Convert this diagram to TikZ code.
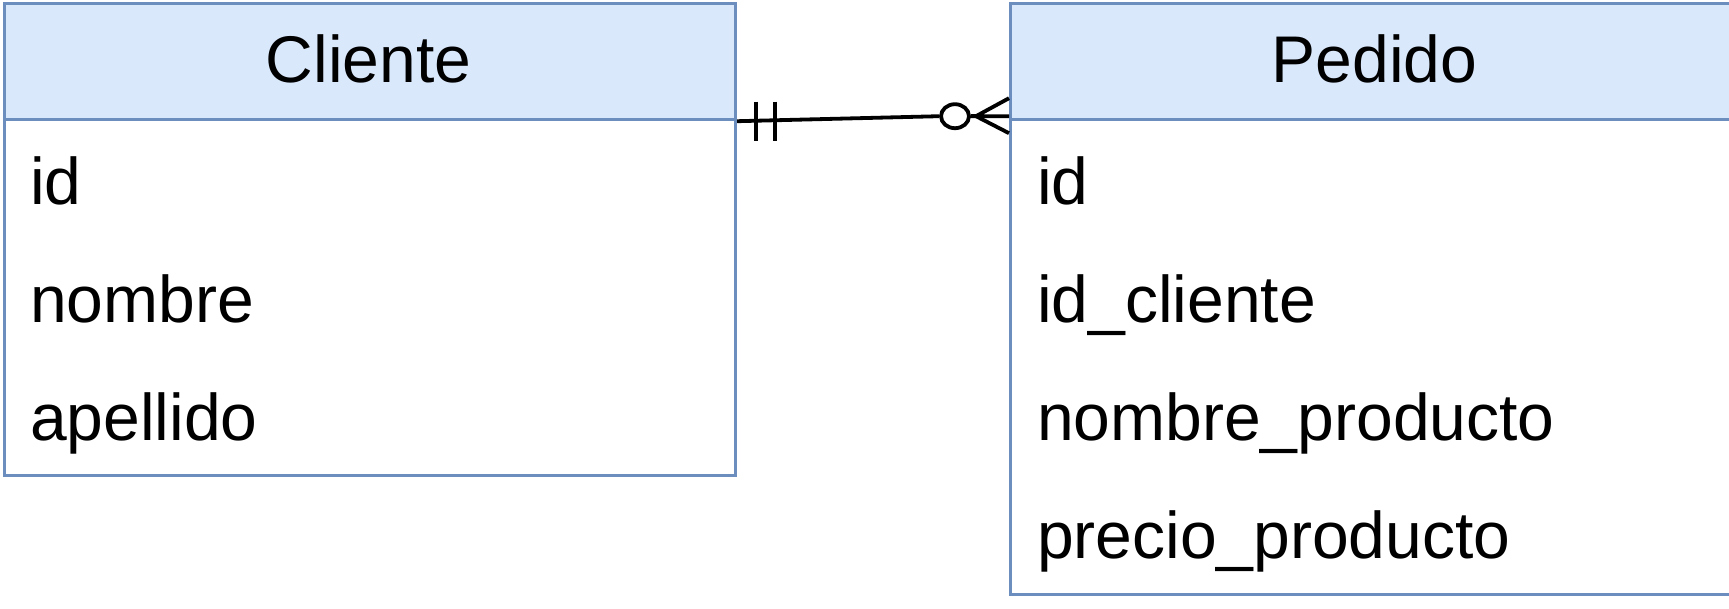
\documentclass[tikz,border=0pt]{standalone}
\usepackage{fontspec}
\setmainfont{Liberation Sans}
\usetikzlibrary{shapes.geometric}
\definecolor{entline}{HTML}{6C8EBF}
\definecolor{entfill}{HTML}{DAE8FC}
\begin{document}
\begin{tikzpicture}[x=1pt,y=-1pt,
  entbox/.style={draw=entline, line width=3.2pt, fill=white, rectangle, inner sep=0pt, anchor=north west},
  enthead/.style={draw=entline, line width=3.2pt, fill=entfill, rectangle, inner sep=0pt, anchor=north west},
  headtxt/.style={anchor=base, font=\fontsize{66}{79}\selectfont, inner sep=0pt},
  rowtxt/.style={anchor=base west, font=\fontsize{66}{79}\selectfont, inner sep=0pt},
  rel/.style={line width=3.8pt, black, line cap=butt}]
\useasboundingbox (0,0) rectangle (1729,608);
\clip (0,0) rectangle (1729,608);
\fill[white] (0,0) rectangle (1729,608);

% Cliente
\node[entbox, minimum width=731pt, minimum height=472pt] (cliB) at (3,2) {};
\node[enthead, minimum width=731pt, minimum height=116pt] (cliH) at (3,2) {};
\node[headtxt] (cliT) at (368.5,82) {Cliente};
\node[rowtxt] (cli1) at (30,204) {id};
\node[rowtxt] (cli2) at (30,322) {nombre};
\node[rowtxt] (cli3) at (30,440) {apellido};

% Pedido
\node[entbox, minimum width=731pt, minimum height=591pt] (pedB) at (1009,2) {};
\node[enthead, minimum width=731pt, minimum height=116pt] (pedH) at (1009,2) {};
\node[headtxt] (pedT) at (1374.5,82) {Pedido};
\node[rowtxt] (ped1) at (1037,204) {id};
\node[rowtxt] (ped2) at (1037,322) {id\_cliente};
\node[rowtxt] (ped3) at (1037,440) {nombre\_producto};
\node[rowtxt] (ped4) at (1037,558) {precio\_producto};

% relationship
\coordinate (relA) at (cliH.south east);
\coordinate (relB) at ([yshift=5pt]pedH.south west);
\node[ellipse, draw=black, line width=3.8pt, fill=white, minimum width=28pt, minimum height=24pt, inner sep=0pt] (zero) at ([xshift=-54pt]relB) {};
\coordinate (crow) at ([xshift=-33pt]relB);
\draw[rel] (relA) -- (zero.west);
\draw[rel] (zero.east) -- (crow);
\draw[rel] ([yshift=18pt]relB) -- (crow) -- (relB);
\draw[rel] ([yshift=-17pt]relB) -- (crow);
\draw[rel] ([xshift=19pt,yshift=19.5pt]relA) -- ([xshift=19pt,yshift=-19.5pt]relA);
\draw[rel] ([xshift=38pt,yshift=19.5pt]relA) -- ([xshift=38pt,yshift=-19.5pt]relA);
\end{tikzpicture}
\end{document}
